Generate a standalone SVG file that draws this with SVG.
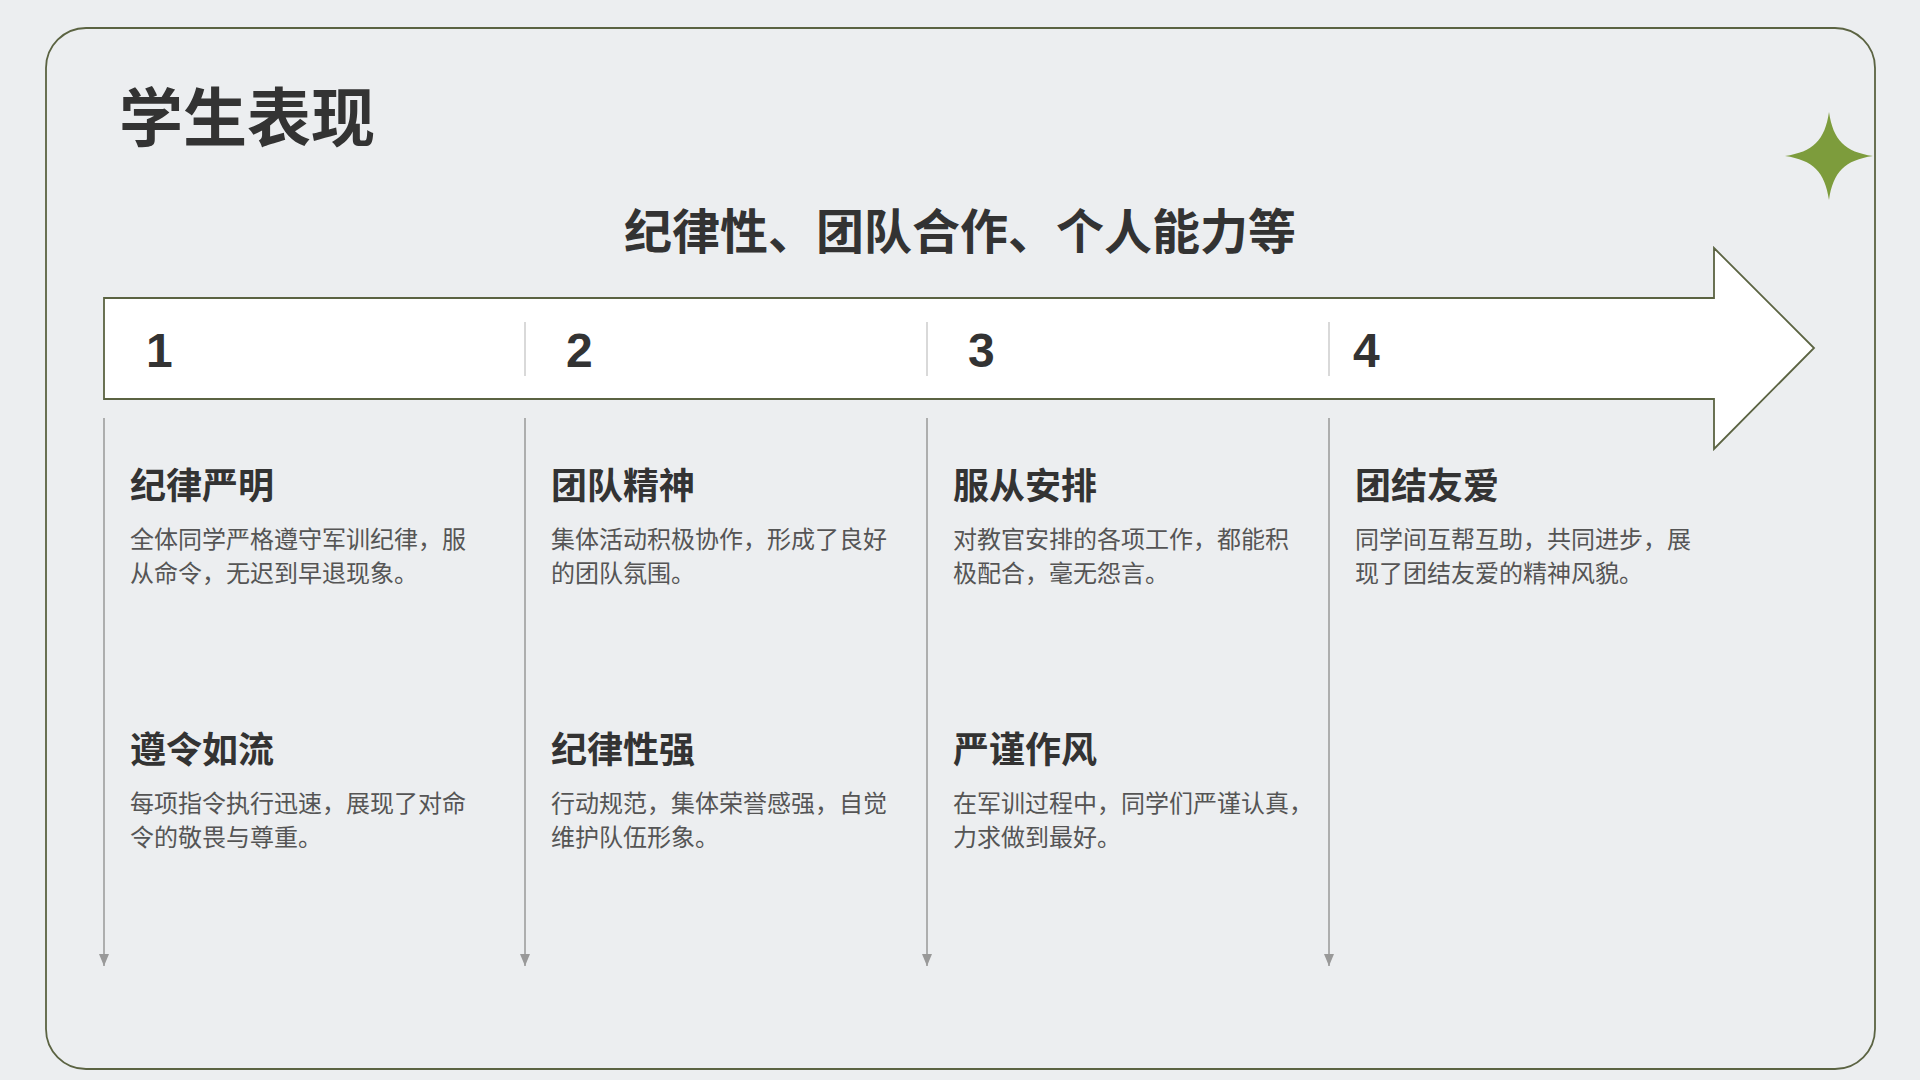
<svg xmlns="http://www.w3.org/2000/svg" width="1920" height="1080" viewBox="0 0 1920 1080">
<defs>
<style>
.cjk{font-family:"Noto Sans CJK SC","Noto Sans CJK TC",sans-serif}
.title{font-size:64px;font-weight:700;fill:#333333}
.sub{font-size:48px;font-weight:700;fill:#333333}
.num{font-family:"Liberation Sans",Arial,sans-serif;font-size:48px;font-weight:700;fill:#333333}
.head{font-size:36px;font-weight:700;fill:#333333}
.body{font-size:24px;font-weight:400;fill:#555555}
.sep{stroke:#cccccc;stroke-width:1.5}
.conn{stroke:#999999;stroke-width:1.5;fill:none}
</style>
<marker id="ah" viewBox="0 0 12 10" refX="12" refY="5" markerWidth="12" markerHeight="10" markerUnits="userSpaceOnUse" orient="auto">
<path d="M0,0 L12,5 L0,10 Z" fill="#999999"/>
</marker>
</defs>
<rect x="0" y="0" width="1920" height="1080" fill="#eceef0"/>
<rect id="frame" x="46" y="28" width="1829" height="1041" rx="40" ry="40" fill="#eceef0" stroke="#5b6342" stroke-width="1.8"/>
<path id="star" d="M1829,112 C1833,140 1845,152 1873,156 C1845,160 1833,172 1829,200 C1825,172 1813,160 1785,156 C1813,152 1825,140 1829,112 Z" fill="#7d9c3c"/>
<text id="title" class="cjk title" x="119" y="141">学生表现</text>
<text id="subtitle" class="cjk sub" x="960" y="249" text-anchor="middle">纪律性、团队合作、个人能力等</text>
<g id="arrow">
<path d="M104,298 H1714 V248 L1814,348 L1714,449 V399 H104 Z" fill="#ffffff" stroke="#5b6342" stroke-width="1.8"/>
<line class="sep" x1="525" y1="322" x2="525" y2="376"/>
<line class="sep" x1="927" y1="322" x2="927" y2="376"/>
<line class="sep" x1="1329" y1="322" x2="1329" y2="376"/>
<text class="num" x="146" y="367">1</text>
<text class="num" x="566" y="367">2</text>
<text class="num" x="968" y="367">3</text>
<text class="num" x="1353" y="367">4</text>
</g>
<g id="connectors">
<line class="conn" x1="104" y1="418" x2="104" y2="966" marker-end="url(#ah)"/>
<line class="conn" x1="525" y1="418" x2="525" y2="966" marker-end="url(#ah)"/>
<line class="conn" x1="927" y1="418" x2="927" y2="966" marker-end="url(#ah)"/>
<line class="conn" x1="1329" y1="418" x2="1329" y2="966" marker-end="url(#ah)"/>
</g>
<g id="node-1a">
<text class="cjk head" x="130" y="499">纪律严明</text>
<text class="cjk body" x="130" y="548">全体同学严格遵守军训纪律，服</text>
<text class="cjk body" x="130" y="582">从命令，无迟到早退现象。</text>
</g>
<g id="node-1b">
<text class="cjk head" x="130" y="763">遵令如流</text>
<text class="cjk body" x="130" y="812">每项指令执行迅速，展现了对命</text>
<text class="cjk body" x="130" y="846">令的敬畏与尊重。</text>
</g>
<g id="node-2a">
<text class="cjk head" x="551" y="499">团队精神</text>
<text class="cjk body" x="551" y="548">集体活动积极协作，形成了良好</text>
<text class="cjk body" x="551" y="582">的团队氛围。</text>
</g>
<g id="node-2b">
<text class="cjk head" x="551" y="763">纪律性强</text>
<text class="cjk body" x="551" y="812">行动规范，集体荣誉感强，自觉</text>
<text class="cjk body" x="551" y="846">维护队伍形象。</text>
</g>
<g id="node-3a">
<text class="cjk head" x="953" y="499">服从安排</text>
<text class="cjk body" x="953" y="548">对教官安排的各项工作，都能积</text>
<text class="cjk body" x="953" y="582">极配合，毫无怨言。</text>
</g>
<g id="node-3b">
<text class="cjk head" x="953" y="763">严谨作风</text>
<text class="cjk body" x="953" y="812">在军训过程中，同学们严谨认真，</text>
<text class="cjk body" x="953" y="846">力求做到最好。</text>
</g>
<g id="node-4a">
<text class="cjk head" x="1355" y="499">团结友爱</text>
<text class="cjk body" x="1355" y="548">同学间互帮互助，共同进步，展</text>
<text class="cjk body" x="1355" y="582">现了团结友爱的精神风貌。</text>
</g>
</svg>
